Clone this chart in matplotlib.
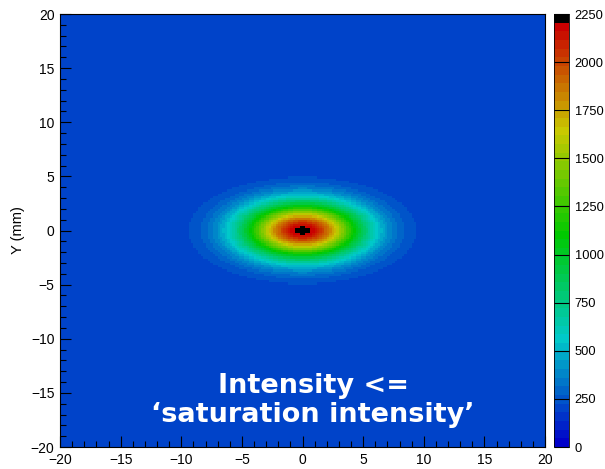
import numpy as np
import matplotlib
matplotlib.use("Agg")
import matplotlib.pyplot as plt
from matplotlib.colors import ListedColormap, BoundaryNorm, hsv_to_rgb
from matplotlib.ticker import MultipleLocator

plt.rcParams['font.family'] = ['Liberation Sans', 'DejaVu Sans']

# histogram binning (mm)
x_range = (-20, 20)
y_range = (-20, 20)
n_bins = 200

# beam spot
pedestal = 185.0
peak = 2055.0
sigma_x = 3.35
sigma_y = 1.76

# palette: 50 bands of 45 from 0 to 2250, top band black
levels = np.arange(0, 2251, 45)
cbar_ticks = np.arange(0, 2251, 250)
title_lines = ['Intensity <=', '\u2018saturation intensity\u2019']

xe = np.linspace(*x_range, n_bins + 1)
ye = np.linspace(*y_range, n_bins + 1)
xc = 0.5 * (xe[:-1] + xe[1:])
yc = 0.5 * (ye[:-1] + ye[1:])
X, Y = np.meshgrid(xc, yc)
Z = pedestal + peak * np.exp(-X**2 / (2 * sigma_x**2) - Y**2 / (2 * sigma_y**2))

n_col = len(levels) - 1
hues = np.linspace(240, 0, n_col - 1) / 360.0
cols = [hsv_to_rgb((h, 1.0, 0.79)) for h in hues] + [(0, 0, 0)]
cmap = ListedColormap(cols)
cmap.set_over('black')
norm = BoundaryNorm(levels, cmap.N)

fig = plt.figure(figsize=(6.05, 4.69), dpi=100)
ax = fig.add_axes([60 / 605, 22 / 469, 485 / 605, 433 / 469])
cax = fig.add_axes([554 / 605, 22 / 469, 15 / 605, 433 / 469])

mesh = ax.pcolormesh(xe, ye, Z, cmap=cmap, norm=norm, shading='flat')
ax.set(xlim=x_range, ylim=y_range)
ax.xaxis.set_major_locator(MultipleLocator(5))
ax.yaxis.set_major_locator(MultipleLocator(5))
ax.xaxis.set_minor_locator(MultipleLocator(1))
ax.yaxis.set_minor_locator(MultipleLocator(1))
ax.tick_params(which='major', direction='in', length=8, width=0.8, labelsize=10, pad=4)
ax.tick_params(which='minor', direction='in', length=4, width=0.8)
ax.set_ylabel('Y (mm)', fontsize=10.5, labelpad=4)
for s in ax.spines.values():
    s.set_linewidth(0.8)

for txt, yb in zip(title_lines, [393, 422]):
    ax.text(313 / 605, 1 - yb / 469, txt, transform=fig.transFigure,
            ha='center', va='baseline', color='white', fontsize=19.5,
            fontweight='bold', family=['DejaVu Sans'])

cb = fig.colorbar(mesh, cax=cax, ticks=cbar_ticks, extend='neither')
cax.tick_params(direction='in', length=11, width=0.8, labelsize=9.3, pad=4)
cax.minorticks_off()
cb.outline.set_linewidth(0.6)

fig.savefig('out.png', dpi=100)
